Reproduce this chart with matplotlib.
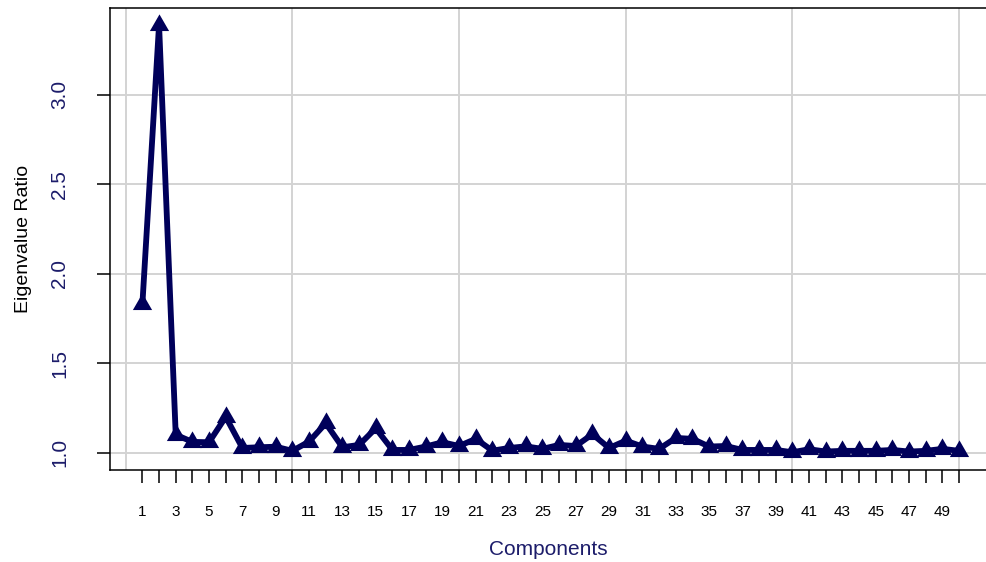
import numpy as np
import matplotlib
matplotlib.use('Agg')
import matplotlib.pyplot as plt
from matplotlib.path import Path

plt.rcParams['font.family'] = ['Liberation Sans', 'DejaVu Sans']

# eigenvalue ratio per component
components = list(range(1, 51))
ratio = [1.83, 3.39, 1.10, 1.06, 1.058, 1.20, 1.026, 1.03, 1.033, 1.01,
         1.062, 1.164, 1.03, 1.043, 1.136, 1.015, 1.015, 1.034, 1.058, 1.037,
         1.077, 1.011, 1.026, 1.035, 1.021, 1.043, 1.037, 1.103, 1.026, 1.067,
         1.034, 1.021, 1.082, 1.077, 1.034, 1.037, 1.015, 1.015, 1.015, 1.002,
         1.019, 1.006, 1.01, 1.01, 1.01, 1.015, 1.006, 1.01, 1.021, 1.01]
xtick_labels = [str(c) if c % 2 == 1 else '' for c in components]
ytick_vals = [1.0, 1.5, 2.0, 2.5, 3.0]
xgrid = [0, 10, 20, 30, 40, 50]

navy = '#00005a'
label_navy = '#1c1c6a'

# R style filled triangle (pch 17): point sits below the centre of the box
tri = Path([(0, 1), (0.866, -0.5), (-0.866, -0.5), (0, 1)],
           [Path.MOVETO, Path.LINETO, Path.LINETO, Path.CLOSEPOLY])

fig = plt.figure(figsize=(9.87, 5.62), dpi=100)
ax = fig.add_axes([0.1115, 0.1637, 0.8885, 0.8221])

for g in xgrid:
    ax.axvline(g, color='#d3d3d3', lw=1.4, zorder=0)
for g in ytick_vals:
    ax.axhline(g, color='#d3d3d3', lw=1.4, zorder=0)

ax.plot(components, ratio, color=navy, lw=4.2, marker=tri, markersize=16,
        markeredgewidth=0, markerfacecolor=navy, zorder=3)

ax.set_xlim(-0.94, 51.67)
ax.set_ylim(0.903, 3.484)

ax.set_xticks(components)
ax.set_xticklabels(xtick_labels, fontsize=11)
ax.set_yticks(ytick_vals)
ax.set_yticklabels(['%.1f' % v for v in ytick_vals], fontsize=15,
                   rotation=90, va='center', color=label_navy)
ax.tick_params(axis='x', length=9.4, width=1.1, pad=16, colors='black')
ax.tick_params(axis='y', length=9.4, width=1.1, pad=20, colors='black', labelcolor=label_navy)

ax.set_xlabel('Components', fontsize=15, color=label_navy, labelpad=15)
ax.set_ylabel('Eigenvalue Ratio', fontsize=14, color='black', labelpad=13)

ax.spines['right'].set_visible(False)
for s in ['left', 'top', 'bottom']:
    ax.spines[s].set_linewidth(1.1)
    ax.spines[s].set_color('black')

fig.savefig('out.png', dpi=100)
